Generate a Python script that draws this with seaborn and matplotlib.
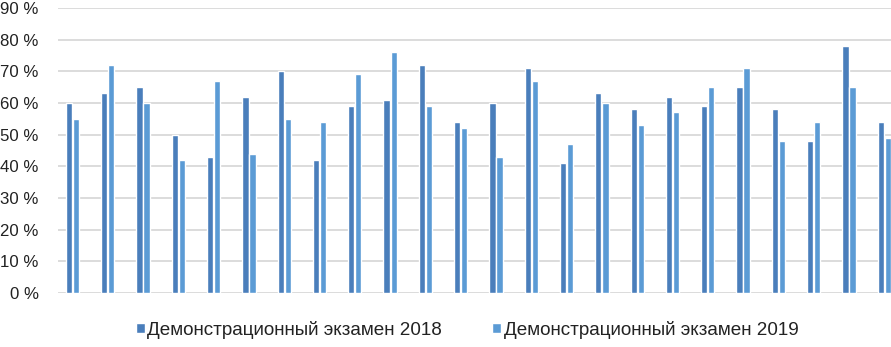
import numpy as np
import pandas as pd
import seaborn as sns
import matplotlib.pyplot as plt

# values, in percent
groups = [str(i) for i in range(1, 25)]
exam_2018 = [60, 63, 65, 50, 43, 62, 70, 42, 59, 61, 72, 54,
             60, 71, 41, 63, 58, 62, 59, 65, 58, 48, 78, 54]
exam_2019 = [55, 72, 60, 42, 67, 44, 55, 54, 69, 76, 59, 52,
             43, 67, 47, 60, 53, 57, 65, 71, 48, 54, 65, 49]
series = ["Демонстрационный экзамен 2018", "Демонстрационный экзамен 2019"]
yticks = list(range(0, 100, 10))

df = pd.DataFrame({
    "group": groups * 2,
    "value": exam_2018 + exam_2019,
    "series": [series[0]] * len(groups) + [series[1]] * len(groups),
})

sns.set_theme(style="white")
plt.rcParams['font.family'] = ['Liberation Sans', 'DejaVu Sans']

fig = plt.figure(figsize=(8.91, 3.47), dpi=100)
ax = fig.add_axes([0.0651, 0.1556, 0.959, 0.8214])

p1 = sns.barplot(data=df, x="group", y="value", hue="series",
                 palette=["#4A7EBB", "#5B9BD5"], width=0.4, gap=0.12,
                 saturation=1, ax=ax)

ax.set_ylim(0, 90)
ax.set_xlim(-0.41, 23.8)
ax.set_yticks(yticks)
ax.set_yticklabels([f"{t} %" for t in yticks], fontsize=12.1, color="#222222")
ax.set_xticks([])
ax.set_xlabel("")
ax.set_ylabel("")
ax.tick_params(axis="y", length=0, pad=14)
ax.grid(axis="y", color="#D9D9D9", linewidth=1.3)
ax.set_axisbelow(True)
for s in ax.spines.values():
    s.set_visible(False)

handles, labels = ax.get_legend_handles_labels()
ax.legend(handles, labels, loc="center", bbox_to_anchor=(0.479, -0.13),
          ncol=2, frameon=False, fontsize=13.6, handlelength=0.45,
          handleheight=0.45, handletextpad=0.15, columnspacing=2.65,
          labelcolor="#222222")

fig.savefig("out.png", dpi=100)
